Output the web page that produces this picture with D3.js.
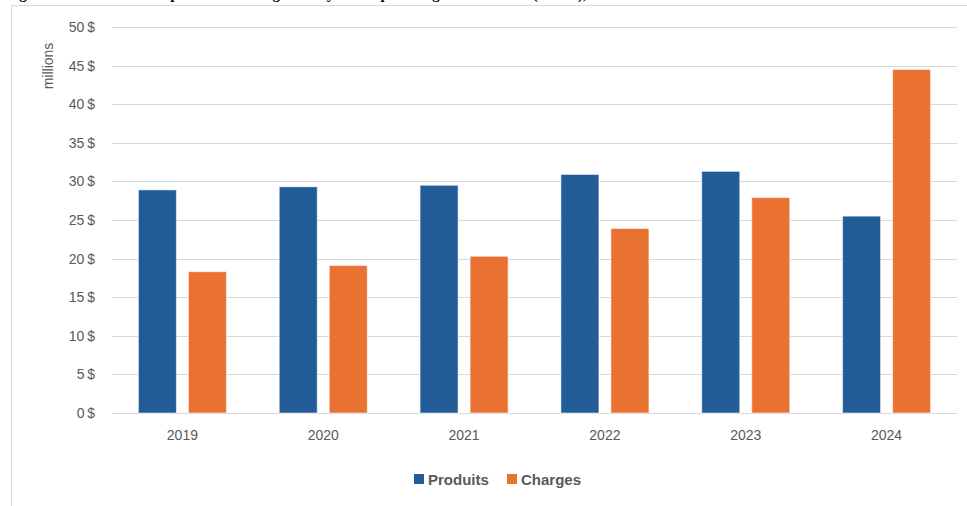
<!DOCTYPE html>
<html>
<head>
<meta charset="utf-8">
<script src="https://cdn.jsdelivr.net/npm/d3@7"></script>
<style>
  html, body { margin: 0; padding: 0; background: #ffffff; }
  svg { display: block; }
  text { font-family: "Liberation Sans Narrow", "Arial Narrow", "Liberation Sans", sans-serif; }
</style>
</head>
<body>
<svg id="chart" width="967" height="506"></svg>
<script>
// ---- data ----
const years = ["2019", "2020", "2021", "2022", "2023", "2024"];
const seriesNames = ["Produits", "Charges"];
const produits = [28.9, 29.3, 29.5, 30.9, 31.3, 25.5];
const charges = [18.3, 19.1, 20.3, 23.9, 27.9, 44.5];
const yTicks = [0, 5, 10, 15, 20, 25, 30, 35, 40, 45, 50];
const colors = ["#215C98", "#E97132"];
const yAxisTitle = "millions";
const titleText = "Figure 14 : Évolution des produits et charges des systèmes par catégorie des MRC (en M$), de 2019 à 2024";

const svg = d3.select("#chart");

// clipped title (only the lower edge is visible in the reference)
svg.append("text")
  .attr("x", 6).attr("y", -1)
  .style("font-family", "'Liberation Serif', 'Times New Roman', serif")
  .style("font-weight", "bold").style("font-size", "15px").attr("fill", "#000")
  .text(titleText);

// chart frame
svg.append("rect")
  .attr("x", 11.5).attr("y", 5.5).attr("width", 1000).attr("height", 600)
  .attr("fill", "none").attr("stroke", "#d9d9d9").attr("stroke-width", 1);

const x0 = d3.scaleBand().domain(years).range([112, 957]).padding(0);
const x1 = d3.scaleBand().domain(seriesNames).range([0, x0.bandwidth()])
  .paddingInner(0.24).paddingOuter(0.528);
const y = d3.scaleLinear().domain([0, 50]).range([413, 27]);

// gridlines
svg.append("g").selectAll("line").data(yTicks).join("line")
  .attr("x1", 112).attr("x2", 957)
  .attr("y1", d => Math.round(y(d)) + 0.5).attr("y2", d => Math.round(y(d)) + 0.5)
  .attr("stroke", "#d9d9d9").attr("stroke-width", 1);

// y axis labels
const yAxis = d3.axisLeft(y).tickValues(yTicks).tickSize(0).tickPadding(0)
  .tickFormat(d => d + "\u2009$");
const gy = svg.append("g").attr("transform", "translate(95,0)").call(yAxis);
gy.select(".domain").remove();
gy.selectAll("text").attr("fill", "#595959").style("font-size", "14px")
  .style("font-family", "\"Liberation Sans Narrow\", \"Arial Narrow\", \"Liberation Sans\", sans-serif");

// y axis title
svg.append("text")
  .attr("transform", "translate(53,66) rotate(-90)")
  .attr("text-anchor", "middle").attr("fill", "#595959").style("font-size", "14px")
  .text(yAxisTitle);

// bars
const data = years.map((yr, i) => ({ year: yr, values: [produits[i], charges[i]] }));
const groups = svg.append("g").selectAll("g").data(data).join("g")
  .attr("transform", d => `translate(${x0(d.year)},0)`);
groups.selectAll("rect").data(d => d.values.map((v, j) => ({ key: seriesNames[j], v, j })))
  .join("rect")
  .attr("x", d => x1(d.key))
  .attr("y", d => y(d.v))
  .attr("width", x1.bandwidth())
  .attr("height", d => y(0) - y(d.v))
  .attr("fill", d => colors[d.j])
  .attr("stroke", "rgba(255,255,255,0.55)").attr("stroke-width", 1);

// x axis labels
const xAxis = d3.axisBottom(x0).tickSize(0).tickPadding(0);
const gx = svg.append("g").attr("transform", "translate(0,430)").call(xAxis);
gx.select(".domain").remove();
gx.selectAll("text").attr("fill", "#595959").style("font-size", "14px")
  .style("font-family", "\"Liberation Sans Narrow\", \"Arial Narrow\", \"Liberation Sans\", sans-serif");

// legend
const legend = svg.append("g");
const legendItems = [{ name: seriesNames[0], x: 414 }, { name: seriesNames[1], x: 507 }];
legendItems.forEach((it, i) => {
  legend.append("rect").attr("x", it.x).attr("y", 474).attr("width", 10).attr("height", 10)
    .attr("fill", colors[i]);
  legend.append("text").attr("x", it.x + 14).attr("y", 484.5)
    .attr("fill", "#595959").style("font-size", "15px").style("font-weight", "bold")
    .text(it.name);
});
</script>
</body>
</html>
